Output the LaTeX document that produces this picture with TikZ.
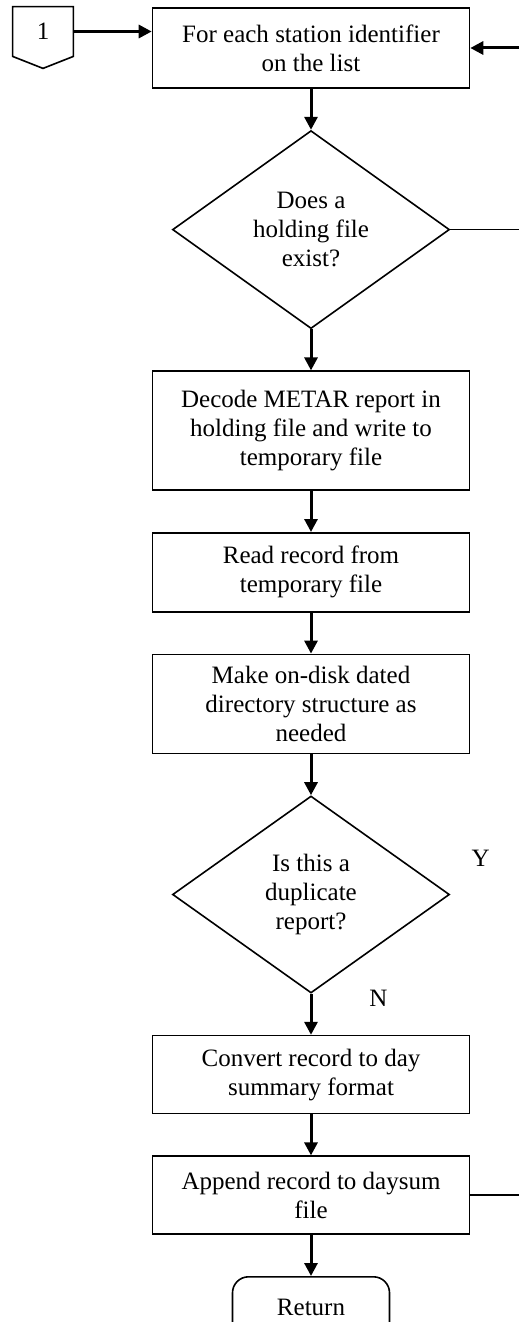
\documentclass[tikz,border=0pt]{standalone}
\usepackage{fontspec}
\setmainfont{Liberation Serif}
\usetikzlibrary{arrows.meta, shapes.geometric, positioning, calc}

\begin{document}
\begin{tikzpicture}[
    x=0.5pt, y=0.5pt,
    node distance=20.5pt,
    font=\fontsize{12.5}{14.5}\selectfont,
    process/.style={
        rectangle,
        draw,
        line width=0.8pt,
        minimum width=158.5pt,
        minimum height=#1,
        align=center
    },
    process/.default=39.5pt,
    decision/.style={
        diamond,
        draw,
        line width=0.8pt,
        aspect=1.4,
        inner sep=0pt,
        minimum width=138.5pt,
        minimum height=99pt,
        align=center
    },
    terminal/.style={
        rectangle,
        rounded corners=8pt,
        draw,
        line width=0.8pt,
        minimum width=78.5pt,
        minimum height=31pt
    },
    offpage/.style={
        rectangle,
        inner sep=0pt,
        minimum width=30pt,
        minimum height=24.5pt
    },
    flow/.style={
        -{Triangle[length=6.5pt, width=6.5pt]},
        line width=1.5pt
    },
    link/.style={
        line width=0.8pt
    },
    lbl/.style={
        inner sep=0pt
    }
]

\clip (0,0) rectangle (519,-1322);

% Loop entry
\node[offpage] (conn) at (43,-31.5) {1};
\draw[link] (conn.north west) -- (conn.north east) -- (conn.south east)
    -- ([yshift=-6pt]conn.south) -- (conn.south west) -- cycle;
\coordinate (edge) at (519,-48);

% Main steps
\node[process=40pt] (foreach) at (311,-48) {For each station identifier\\on the list};
\node[decision, below=of foreach] (holding) {Does a\\holding file\\exist?};
\node[process=59.5pt, below=of holding] (decode) {Decode METAR report in\\holding file and write to\\temporary file};
\node[process, below=of decode] (readrec) {Read record from\\temporary file};
\node[process=49.5pt, below=of readrec] (mkdir) {Make on-disk dated\\directory structure as\\needed};
\node[decision, minimum height=98.5pt, below=of mkdir] (dup) {Is this a\\duplicate\\report?};
\node[process=39pt, below=of dup] (convert) {Convert record to day\\summary format};
\node[process=39pt, below=of convert] (append) {Append record to daysum\\file};
\node[terminal, below=of append] (ret) {Return};

% Branch labels
\node[lbl, above right=13.75pt and 10.5pt of dup.east] (ylab) {Y};
\node[lbl, right=29pt of dup.south, yshift=-2.5pt] (nlab) {N};

% Arrows
\draw[flow] (conn.east) -- (conn.east -| foreach.west);
\draw[flow] (edge) -- (foreach.east);
\draw[flow] (foreach) -- (holding);
\draw[flow] (holding) -- (decode);
\draw[flow] (decode) -- (readrec);
\draw[flow] (readrec) -- (mkdir);
\draw[flow] (mkdir) -- (dup);
\draw[flow] (dup) -- (convert);
\draw[flow] (convert) -- (append);
\draw[flow] (append) -- (ret);

% Lines back to the loop
\draw[link] (holding.east) -- (holding.east -| edge);
\draw[link] (append.east) -- (append.east -| edge);

\end{tikzpicture}
\end{document}
